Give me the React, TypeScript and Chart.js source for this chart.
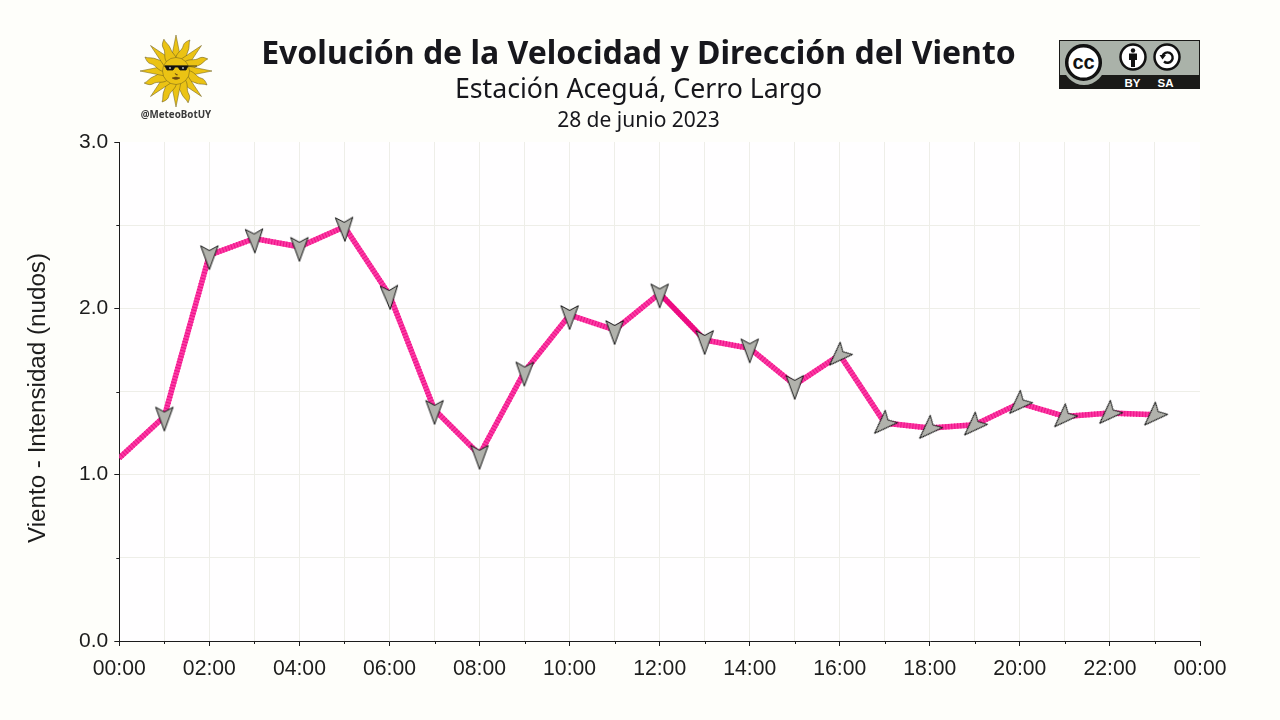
import { useEffect, useRef } from 'react';
import { Chart, registerables } from 'chart.js';

Chart.register(...registerables);

const hours = [0, 1, 2, 3, 4, 5, 6, 7, 8, 9, 10, 11, 12, 13, 14, 15, 16, 17, 18, 19, 20, 21, 22, 23];
const windSpeed = [1.1, 1.35, 2.32, 2.42, 2.37, 2.49, 2.08, 1.39, 1.12, 1.62, 1.96, 1.87, 2.09, 1.81, 1.76, 1.54, 1.72, 1.31, 1.28, 1.3, 1.43, 1.35, 1.37, 1.36];
// degrees, 0 = arrow pointing down, first hour has no arrow
const windDirection = [null, 0, 0, -2, 0, -2, -3, 0, 0, 1, 0, 0, 0, 0, 0, 0, 45, 45, 45, 45, 45, 45, 45, 45];
const yTickLabels = ['0.0', '1.0', '2.0', '3.0'];

const title = 'Evolución de la Velocidad y Dirección del Viento';
const subtitle = 'Estación Aceguá, Cerro Largo';
const dateLabel = '28 de junio 2023';
const yAxisTitle = 'Viento - Intensidad (nudos)';

const pageColor = '#fefefa';
const gridColor = '#eeeee8';
const axisColor = '#1c1c1c';

const makeArrow = () => {
  const c = document.createElement('canvas');
  c.width = 40;
  c.height = 40;
  const ctx = c.getContext('2d');
  if (ctx) {
    ctx.translate(20, 20);
    ctx.beginPath();
    ctx.moveTo(0, 14.5);
    ctx.lineTo(-8.7, -9.3);
    ctx.lineTo(0, -4.5);
    ctx.lineTo(8.7, -9.3);
    ctx.closePath();
    ctx.fillStyle = '#b1b2ac';
    ctx.strokeStyle = '#111111';
    ctx.lineWidth = 1;
    ctx.lineJoin = 'miter';
    ctx.fill();
    ctx.stroke();
  }
  return c;
};

const plotBackground = {
  id: 'plotBackground',
  beforeDraw(chart: any) {
    const { ctx, chartArea } = chart;
    ctx.save();
    ctx.fillStyle = '#fffeff';
    ctx.fillRect(chartArea.left, chartArea.top, chartArea.width, chartArea.height);
    ctx.restore();
  }
};

// chart.js has one tick length per axis, the odd hours and half units are shorter
const minorTicks = {
  id: 'minorTicks',
  afterDraw(chart: any) {
    const { ctx, chartArea, scales } = chart;
    ctx.save();
    ctx.strokeStyle = axisColor;
    ctx.lineWidth = 1;
    ctx.beginPath();
    scales.x.ticks.forEach((t: any) => {
      if (t.value % 2 === 1) {
        const px = Math.round(scales.x.getPixelForValue(t.value)) + 0.5;
        ctx.moveTo(px, chartArea.bottom);
        ctx.lineTo(px, chartArea.bottom + 3);
      }
    });
    scales.y.ticks.forEach((t: any) => {
      if (t.value % 1 !== 0) {
        const py = Math.round(scales.y.getPixelForValue(t.value)) + 0.5;
        ctx.moveTo(chartArea.left, py);
        ctx.lineTo(chartArea.left - 3, py);
      }
    });
    ctx.stroke();
    ctx.restore();
  }
};

function SunLogo() {
  const rays = Array.from({ length: 16 }, (_, i) => i * 22.5);
  return (
    <svg width={80} height={80} viewBox="-40 -40 80 80" style={{ position: 'absolute', left: 136, top: 31 }}>
      {rays.map((a, i) => (
        <path
          key={a}
          transform={`rotate(${a})`}
          d={i % 2 === 0
            ? 'M-5,-11 L0,-36 L5,-11 Z'
            : 'M-5,-11 C-7,-17 -2,-21 -3,-26 C-3.5,-29 -2,-31 1,-34 C1,-30 4,-27 3.5,-22 C3,-18 6,-15 5,-11 Z'}
          fill="#ebc314"
          stroke="#6b5a1c"
          strokeWidth={0.5}
        />
      ))}
      <circle r={13.5} fill="#ebc314" stroke="#6b5a1c" strokeWidth={0.5} />
      <path d="M-12,-5 H21 M-11,-5 L-9,-1 H-3 L-1,-4 H2 L4,-1 H10 L12,-5 Z" fill="#111" stroke="#111" strokeWidth={0.8} />
      <circle cx={-6} cy={-3} r={1.1} fill="#aaa" />
      <circle cx={7} cy={-3} r={1.1} fill="#aaa" />
      <path d="M-1,2 L0,4 L2,4 M-4,7 Q0,5 4,7 Q0,10 -4,7 Z" fill="#6b4a10" stroke="#6b4a10" strokeWidth={0.5} />
    </svg>
  );
}

function CcBadge() {
  return (
    <svg width={141} height={49} viewBox="0 0 141 49" style={{ position: 'absolute', left: 1059, top: 40 }}>
      <rect x={0.5} y={0.5} width={140} height={48} fill="#aab2a9" stroke="#1a1a18" />
      <rect x={0} y={35} width={141} height={14} fill="#1a1a18" />
      <circle cx={25} cy={24} r={21} fill="#aab2a9" />
      <circle cx={24.5} cy={22.5} r={16.8} fill="#fff" stroke="#111" strokeWidth={3.5} />
      <text x={24.5} y={29} textAnchor="middle" fontFamily="'Liberation Sans', sans-serif" fontWeight="bold" fontSize={20} fill="#111">cc</text>
      <circle cx={74} cy={17} r={12.5} fill="#fff" stroke="#111" strokeWidth={2.5} />
      <circle cx={74} cy={10.5} r={2.2} fill="#111" />
      <path d="M70,13.5 H78 V20 H76 V27 H72 V20 H70 Z" fill="#111" />
      <circle cx={108} cy={17} r={12.5} fill="#fff" stroke="#111" strokeWidth={2.5} />
      <path d="M103.5,16 A5.2,5.2 0 1 1 105,21.5" fill="none" stroke="#111" strokeWidth={2.4} />
      <path d="M100.5,15 L103.5,19.5 L107,15 Z" fill="#111" />
      <text x={73.5} y={46.5} textAnchor="middle" fontFamily="'Liberation Sans', sans-serif" fontWeight="bold" fontSize={11.5} fill="#fff">BY</text>
      <text x={106.5} y={46.5} textAnchor="middle" fontFamily="'Liberation Sans', sans-serif" fontWeight="bold" fontSize={11.5} fill="#fff">SA</text>
    </svg>
  );
}

const centered = (y: number, size: number, weight: number): React.CSSProperties => ({
  position: 'absolute',
  left: 0,
  width: 1277,
  top: y - size,
  height: size * 2,
  lineHeight: `${size * 2}px`,
  textAlign: 'center',
  fontFamily: "'Noto Sans', sans-serif",
  fontSize: size,
  fontWeight: weight,
  color: '#17171c',
  whiteSpace: 'nowrap'
});

export default function App() {
  const canvasRef = useRef<HTMLCanvasElement>(null);

  useEffect(() => {
    if (!canvasRef.current) return;
    const arrow = makeArrow();
    const points = hours.map((h, i) => ({ x: h, y: windSpeed[i] }));

    const chart = new Chart(canvasRef.current, {
      type: 'line',
      data: {
        datasets: [
          {
            data: points,
            showLine: false,
            pointStyle: arrow as any,
            pointRotation: windDirection.map(d => d ?? 0),
            pointRadius: windDirection.map(d => (d === null ? 0 : 8)),
            clip: false as any
          },
          {
            data: points,
            borderColor: '#ee1088',
            borderWidth: 5.5,
            borderDash: [1, 2],
            pointRadius: 0
          },
          {
            data: points,
            borderColor: '#fb3aa3',
            borderWidth: 5.5,
            pointRadius: 0,
            segment: {
              borderColor: (ctx: any) => (ctx.p0DataIndex === 12 ? '#ec0a80' : undefined)
            }
          }
        ]
      },
      options: {
        animation: false,
        responsive: false,
        devicePixelRatio: 1,
        layout: { padding: { left: 0, right: 80, top: 142, bottom: 0 } },
        plugins: {
          legend: { display: false },
          tooltip: { enabled: false }
        },
        scales: {
          x: {
            type: 'linear',
            min: 0,
            max: 24,
            afterFit: (scale: any) => { scale.height = 79; },
            border: { color: axisColor, width: 1 },
            grid: {
              color: (ctx: any) => (ctx.tick && ctx.tick.value === 24 ? 'transparent' : gridColor),
              tickLength: 5,
              tickColor: (ctx: any) => (ctx.tick && ctx.tick.value % 2 === 1 ? 'transparent' : axisColor)
            },
            ticks: {
              stepSize: 1,
              autoSkip: false,
              maxRotation: 0,
              padding: 10,
              color: axisColor,
              font: { family: "'Liberation Sans', sans-serif", size: 21.2 },
              callback: (v: any) => (v % 2 === 0 ? `${String(v % 24).padStart(2, '0')}:00` : '')
            }
          },
          y: {
            min: 0,
            max: 3,
            afterFit: (scale: any) => { scale.width = 119.3; },
            border: { color: axisColor, width: 1 },
            grid: {
              color: (ctx: any) => (ctx.tick && ctx.tick.value === 3 ? 'transparent' : gridColor),
              tickLength: 5,
              tickColor: (ctx: any) => (ctx.tick && ctx.tick.value % 1 !== 0 ? 'transparent' : axisColor)
            },
            ticks: {
              stepSize: 0.5,
              autoSkip: false,
              padding: 6,
              color: axisColor,
              font: { family: "'Liberation Sans', sans-serif", size: 21 },
              callback: (v: any) => (v % 1 === 0 ? yTickLabels[v] : '')
            }
          }
        }
      },
      plugins: [plotBackground, minorTicks]
    });

    return () => {
      chart.destroy();
    };
  }, []);

  return (
    <div style={{ position: 'fixed', left: 0, top: 0, width: 1280, height: 720, background: pageColor, overflow: 'hidden' }}>
      <canvas ref={canvasRef} width={1280} height={720} style={{ position: 'absolute', left: 0, top: 0 }} />
      <div style={centered(51.5, 32, 700)}>{title}</div>
      <div style={centered(88, 26.7, 400)}>{subtitle}</div>
      <div style={centered(119, 21, 400)}>{dateLabel}</div>
      <SunLogo />
      <div style={{
        position: 'absolute', left: 126, width: 100, top: 108, lineHeight: '14px', textAlign: 'center',
        fontFamily: "'Noto Sans', sans-serif", fontWeight: 700, fontSize: 9.8, color: '#3a3a3a'
      }}>@MeteoBotUY</div>
      <CcBadge />
      <div style={{
        position: 'absolute', left: 37, top: 398, width: 0, height: 0, display: 'flex',
        alignItems: 'center', justifyContent: 'center', transform: 'rotate(-90deg)',
        fontFamily: "'Liberation Sans', sans-serif", fontSize: 24.2, color: axisColor, whiteSpace: 'nowrap'
      }}>{yAxisTitle}</div>
    </div>
  );
}
